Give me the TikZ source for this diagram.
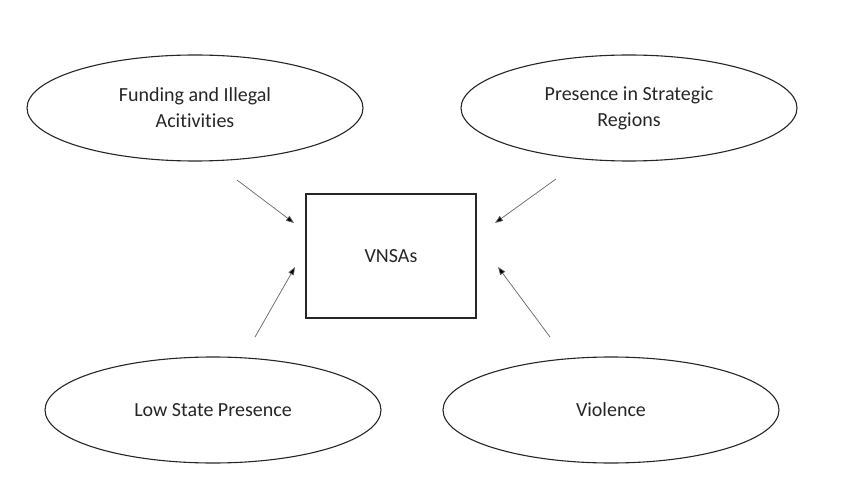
\documentclass[tikz,border=0pt]{standalone}
\usepackage{fontspec}
\setmainfont{Carlito}[Ligatures=NoCommon]
\usetikzlibrary{shapes.geometric,arrows.meta}
\tikzset{
  oval/.style={ellipse, draw=black!85, line width=1.1pt, minimum width=336pt, minimum height=106pt, inner sep=0pt, align=center, font=\fontsize{20}{26}\selectfont, text=black!85},
  box/.style={rectangle, draw=black!85, line width=1.1pt, minimum width=170pt, minimum height=124pt, inner sep=0pt, font=\fontsize{20}{26}\selectfont, text=black!85},
  conn/.style={draw=black!60, line width=0.7pt, -{Triangle[length=8pt,width=6pt,fill=black]}}
}
\begin{document}
\begin{tikzpicture}[x=1pt,y=1pt]
\useasboundingbox (0,0) rectangle (848,493);
\node[oval] (fund) at (195,385) {Funding and Illegal\\Acitivities};
\node[oval] (pres) at (629,385) {Presence in Strategic\\Regions};
\node[oval] (low) at (213,83) {Low State Presence};
\node[oval] (viol) at (611,83) {Violence};
\node[box] (vnsa) at (391,237) {VNSAs};
\coordinate (a1) at (237,313); \coordinate (b1) at (294,270);
\coordinate (a2) at (556,314); \coordinate (b2) at (495,270);
\coordinate (a3) at (255,156); \coordinate (b3) at (295,226);
\coordinate (a4) at (550,156); \coordinate (b4) at (498,226);
\draw[conn] (a1) -- (b1);
\draw[conn] (a2) -- (b2);
\draw[conn] (a3) -- (b3);
\draw[conn] (a4) -- (b4);
\end{tikzpicture}
\end{document}
